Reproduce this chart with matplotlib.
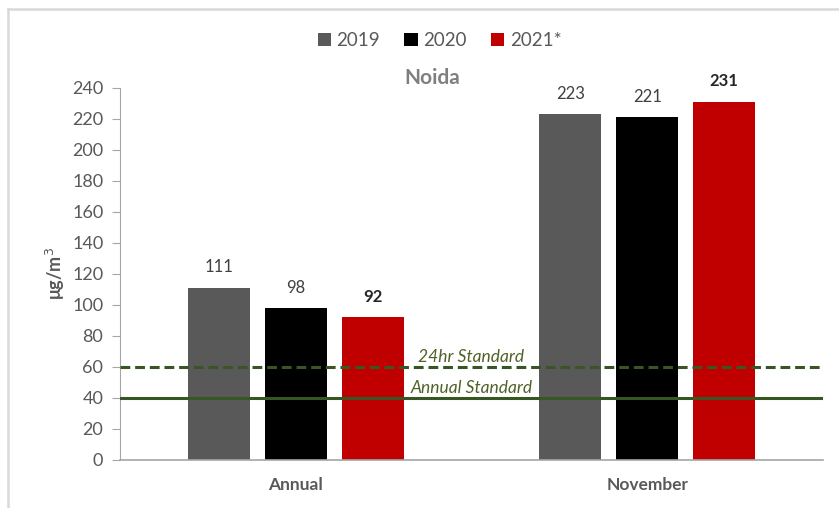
import matplotlib
matplotlib.use('Agg')
import matplotlib.pyplot as plt
from matplotlib.lines import Line2D
import numpy as np

plt.rcParams['font.family'] = ['Lato', 'DejaVu Sans']

categories = ['Annual', 'November']
years = ['2019', '2020', '2021*']
values = {
    '2019': [111, 223],
    '2020': [98, 221],
    '2021*': [92, 231],
}
colors = ['#595959', '#000000', '#C00000']
standard_24hr = 60
standard_annual = 40

fig = plt.figure(figsize=(8.39, 5.08), dpi=100)
ax = fig.add_axes([0.143, 0.0945, 0.838, 0.7325])

x = np.arange(len(categories))
width = 0.176
step = 0.219
for i, (yr, col) in enumerate(zip(years, colors)):
    pos = x + (i - 1) * step
    ax.bar(pos, values[yr], width=width, color=col, label=yr, zorder=2)
    for p, v in zip(pos, values[yr]):
        bold = yr == '2021*'
        ax.text(p, v + 8, f'{v}', ha='center', va='bottom', fontsize=12,
                color='#262626' if bold else '#404040',
                fontweight='bold' if bold else 'normal')

green = '#375623'
ax.axhline(standard_24hr, color=green, lw=2.2, ls=(0, (3.2, 1.6)), zorder=3)
ax.axhline(standard_annual, color=green, lw=2.2, zorder=3)
ax.text(0.5, standard_24hr + 1.5, '24hr Standard', ha='center', va='bottom',
        fontsize=12.5, style='italic', color='#4F6228')
ax.text(0.5, standard_annual + 1.5, 'Annual Standard', ha='center', va='bottom',
        fontsize=12.5, style='italic', color='#4F6228')

ax.set_xlim(-0.5, 1.5)
ax.set_ylim(0, 240)
ax.set_yticks(np.arange(0, 241, 20))
ax.set_xticks(x)
ax.set_xticklabels(categories, fontsize=12.5, fontweight='bold', color='#595959')
ax.tick_params(axis='x', length=0, pad=12)
ax.tick_params(axis='y', labelsize=13, labelcolor='#595959', color='#a6a6a6',
               length=6, direction='out', pad=6)
for s in ['top', 'right']:
    ax.spines[s].set_visible(False)
ax.spines['left'].set_color('#a6a6a6')
ax.spines['bottom'].set_color('#a6a6a6')
ax.spines['bottom'].set_linewidth(1.2)
ax.set_ylabel('μg/m$^3$', fontsize=13, fontweight='bold', color='#595959', labelpad=4)

ax.set_title('Noida', fontsize=15, fontweight='bold', color='#7f7f7f', pad=0, x=0.444)

fig.legend(loc='upper center', bbox_to_anchor=(0.524, 0.955), ncol=3, frameon=False,
           fontsize=13.5, handlelength=0.7, handleheight=0.7, handletextpad=0.3,
           columnspacing=1.3, labelcolor='#595959', borderpad=0)

# light frame along top and left edges
fig.add_artist(Line2D([8/839, 1], [1 - 8.5/508] * 2, transform=fig.transFigure,
                      color='#d9d9d9', lw=1.8))
fig.add_artist(Line2D([8/839] * 2, [0, 1 - 8.5/508], transform=fig.transFigure,
                      color='#d9d9d9', lw=1.8))

fig.savefig('out.png', dpi=100)
